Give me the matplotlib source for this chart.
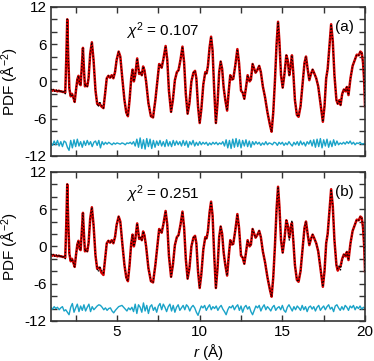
import numpy as np
import matplotlib
matplotlib.use('Agg')
import matplotlib.pyplot as plt
from matplotlib.ticker import MultipleLocator

plt.rcParams['font.family'] = ['Liberation Sans', 'DejaVu Sans']
plt.rcParams['mathtext.fontset'] = 'custom'
plt.rcParams['mathtext.rm'] = 'Liberation Sans'
plt.rcParams['mathtext.it'] = 'Liberation Sans:italic'
plt.rcParams['axes.unicode_minus'] = False

r_obs = [1.00, 1.08, 1.16, 1.24, 1.32, 1.40, 1.48, 1.56, 1.64, 1.72, 1.80, 1.87,
         1.93, 1.99, 2.05, 2.12, 2.20, 2.28, 2.36, 2.44, 2.52, 2.60, 2.67, 2.74,
         2.80, 2.87, 2.94, 3.00, 3.06, 3.13, 3.20, 3.28, 3.38, 3.48, 3.58, 3.70,
         3.80, 3.87, 3.95, 4.05, 4.18, 4.28, 4.38, 4.48, 4.58, 4.68, 4.78, 4.88,
         4.98, 5.10, 5.20, 5.32, 5.45, 5.56, 5.66, 5.76, 5.86, 5.94, 6.02, 6.10,
         6.22, 6.34, 6.44, 6.50, 6.58, 6.66, 6.76, 6.90, 7.05, 7.18, 7.32, 7.45,
         7.55, 7.62, 7.70, 7.80, 7.94, 8.04, 8.14, 8.27, 8.38, 8.50, 8.62, 8.72,
         8.84, 8.96, 9.06, 9.16, 9.27, 9.38, 9.50, 9.62, 9.72, 9.80, 9.90, 10.00,
         10.10, 10.22, 10.34, 10.42, 10.50, 10.60, 10.69, 10.78, 10.88, 10.98, 11.08, 11.18,
         11.27, 11.36, 11.45, 11.55, 11.66, 11.76, 11.85, 11.95, 12.03, 12.15, 12.28, 12.38,
         12.50, 12.60, 12.70, 12.80, 12.90, 13.02, 13.10, 13.20, 13.30, 13.38, 13.48, 13.60,
         13.70, 13.82, 13.95, 14.10, 14.25, 14.35, 14.45, 14.55, 14.65, 14.74, 14.82, 14.92,
         15.02, 15.12, 15.24, 15.32, 15.42, 15.50, 15.58, 15.66, 15.76, 15.88, 15.98, 16.10,
         16.22, 16.34, 16.43, 16.53, 16.63, 16.73, 16.83, 16.93, 17.05, 17.17, 17.30, 17.45,
         17.55, 17.65, 17.74, 17.84, 17.95, 18.05, 18.15, 18.27, 18.35, 18.45, 18.52, 18.62,
         18.72, 18.82, 18.90, 19.00, 19.12, 19.25, 19.40, 19.50, 19.62, 19.72, 19.80, 19.88,
         19.95, 20.00]
g_obs = [-1.2, -1.5, -1.2, -1.6, -1.3, -1.7, -1.3, -1.8, -1.4, -1.9, -1.6, -2.0,
         3.5, 10.0, 4.0, -1.2, -2.4, -2.0, -2.6, -3.3, -1.4, 0.3, 0.9, -0.4,
         -0.6, 2.5, 5.4, 2.0, -0.8, -0.5, -0.8, 0.5, 4.5, 6.3, 3.5, -1.5,
         -3.6, -4.1, -3.2, -3.8, -4.3, -2.0, 0.5, 0.9, 0.6, 1.0, 0.5, 1.5,
         3.5, 4.8, 4.0, 0.5, -3.0, -5.0, -5.6, -3.0, 0.5, 1.9, 0.0, 1.0,
         3.7, 1.2, 1.4, 1.0, 2.4, 1.8, 0.0, -3.5, -5.6, -5.8, -3.0, 0.3,
         2.8, 2.6, 2.2, 3.5, 5.7, 3.5, -1.5, -4.9, -3.0, 0.2, 1.5, 1.8,
         3.5, 5.6, 3.0, -2.0, -5.2, -3.5, 0.0, 1.4, 1.7, 0.5, -4.0, -6.7,
         -4.5, -0.5, 1.5, 1.3, 2.5, 5.5, 7.2, 5.0, -1.5, -6.7, -3.5, 1.5,
         3.2, 2.0, -1.0, -3.0, -4.7, -1.5, 1.0, 0.3, 0.4, 2.5, 5.2, 3.0,
         -1.5, -1.8, -2.8, -1.0, 1.0, 0.0, 0.3, 2.8, 2.0, 1.4, 1.8, 2.5,
         1.5, -0.8, -2.5, -5.0, -7.0, -8.1, -5.0, 0.0, 6.0, 9.6, 6.5, 1.0,
         -1.0, 1.0, 4.2, 3.5, 1.0, 2.5, 4.2, 1.5, -3.0, -5.4, -5.7, -4.0,
         -0.5, 3.0, 4.0, 2.0, 0.2, 1.2, 1.9, 1.3, 0.5, -0.8, -3.5, -6.5,
         -4.0, 0.5, 2.0, 5.5, 9.2, 6.5, 1.0, -3.0, -3.6, -3.0, -3.8, -2.0,
         -1.3, -1.6, -0.9, -2.2, 0.5, 2.5, 3.6, 4.3, 4.2, 4.8, 4.6, 3.0,
         0.0, -4.0]

# fitted curves: same as data except where the fit departs from it
g_calc_a = list(g_obs)
g_calc_a[:12] = [-1.4, -1.5, -1.4, -1.5, -1.5, -1.6, -1.5, -1.6, -1.6, -1.7, -1.7, -1.8]
g_calc_a[37:41] = [-3.8, -3.6, -4.0, -4.3]
g_calc_b = list(g_calc_a)
g_calc_b[37:41] = [-3.5, -3.4, -4.2, -4.6]
g_calc_b[148:152] = [1.4, 3.0, 3.8, 1.0]
g_calc_b[176:179] = [-3.9, -3.4, -3.2]

# residuals (data - fit) on a 0.1 A grid, drawn shifted down
r_diff = np.round(np.arange(1.0, 20.05, 0.1), 1)
diff_a = [0.1, -0.3, 0.4, -0.2, 0.5, -0.4, 0.3, -0.5, 0.4, 0.2,
          -0.6, -1.1, 0.5, -0.7, 0.6, -0.5, 0.7, -0.4, 0.3, -0.6,
          0.4, -0.3, 0.5, -0.2, 0.3, -0.5, 0.2, 0.4, -0.3, 0.5,
          -0.7, 0.3, -0.2, 0.2, -0.1, 0.2, 0.0, -0.2, 0.1, -0.1,
          0.1, 0.0, -0.1, 0.1, 0.0, -0.2, 0.1, 0.0, 0.2, -0.1,
          0.3, -0.4, 0.7, -0.6, 0.9, -0.8, 0.6, -0.9, 0.8, -0.5,
          0.7, -0.8, 0.5, -0.6, 0.4, -0.3, 0.5, -0.4, 0.3, -0.5,
          0.6, -0.4, 0.3, -0.5, 0.5, -0.3, 0.4, -0.2, 0.3, -0.4,
          0.5, -0.3, 0.4, -0.6, 0.3, -0.2, 0.5, -0.4, 0.2, -0.3,
          0.3, -0.2, 0.2, -0.1, 0.2, -0.3, 0.1, -0.2, 0.2, -0.1,
          0.2, -0.2, 0.1, -0.1, 0.3, -0.4, 0.6, -0.7, 0.5, -0.8,
          0.7, -0.6, 0.8, -0.5, 0.6, -0.7, 0.5, -0.4, 0.6, -0.5,
          0.4, -0.6, 0.3, -0.2, 0.3, -0.1, 0.2, -0.3, 0.1, -0.2,
          0.3, -0.2, 0.1, 0.0, -0.2, 0.2, 0.1, -0.3, 0.2, -0.1,
          0.2, -0.3, 0.1, -0.2, 0.3, -0.1, -0.4, 0.2, -0.2, 0.3,
          -0.3, 0.4, -0.2, 0.2, -0.4, 0.3, -0.1, 0.5, -0.4, 0.6,
          -0.6, 0.7, -0.5, 0.8, -0.7, 0.6, -0.4, 0.7, -0.6, 0.4,
          -0.5, 0.6, -0.3, 0.4, -0.2, 0.1, -0.1, 0.2, -0.1, 0.3,
          0.0, 0.4, -0.1, 0.2, -0.2, 0.1, 0.0, 0.2, -0.1, 0.0,
          -0.1]
diff_b = [0.2, -0.1, 0.3, 0.0, 0.2, -0.2, 0.1, 0.3, -0.4, -0.2,
          -0.6, -1.0, 0.2, 0.8, -0.6, 0.1, 0.7, -0.5, 0.4, -0.3,
          0.6, -0.4, 0.2, 0.7, -0.5, 0.3, -0.2, 0.1, 0.4, 0.6,
          0.5, 0.2, -0.2, 0.1, -0.3, 0.0, 0.1, -0.4, -0.7, -0.3,
          0.0, 0.3, 0.4, 0.5, 0.2, -0.1, -0.4, 0.1, -0.2, 0.2,
          -0.5, 0.7, -0.8, 0.6, 0.2, -0.6, 0.9, -0.4, 0.5, -0.8,
          0.3, 0.6, -0.3, 0.2, -0.6, 0.4, 0.8, -0.2, 0.7, 0.2,
          -0.5, 0.3, 0.7, -0.4, 0.5, -0.6, 0.2, 0.6, -0.3, 0.1,
          0.5, -0.2, 0.6, 0.3, -0.4, 0.2, 0.5, 0.1, -0.6, -1.1,
          -0.3, 0.4, 0.1, 0.5, -0.3, 0.2, 0.6, -0.2, 0.3, 0.0,
          0.4, -0.3, 0.2, 0.5, -0.1, -0.5, -1.0, -0.2, 0.3, 0.1,
          0.5, -0.2, 0.3, 0.6, -0.3, 0.4, -0.6, 0.2, 0.5, -0.1,
          0.3, -0.5, -1.0, -0.3, 0.4, 0.1, 0.5, -0.4, 0.2, 0.6,
          -0.2, 0.3, 0.0, -0.4, 0.2, 0.5, -0.3, 0.1, 0.3, -0.2,
          0.5, -0.3, -0.6, 0.2, 0.6, 0.1, -0.4, 0.3, -0.2, 0.4,
          0.1, -0.3, 0.5, -0.2, 0.3, -0.5, 0.2, 0.4, -0.1, 0.3,
          -0.4, 0.2, 0.5, -0.3, 0.1, 0.4, -0.2, 0.3, 0.6, -0.1,
          0.2, -0.5, 0.4, 0.6, 0.1, -0.3, 0.3, -0.2, 0.5, 0.2,
          -0.3, 0.4, 0.1, 0.5, -0.2, 0.3, 0.0, 0.4, -0.1, 0.2,
          0.0]

chi2_values = ['0.107', '0.251']
panel_tags = ['(a)', '(b)']
diff_offset = -10

fig = plt.figure(figsize=(3.74, 3.61), dpi=100)
ax_a = fig.add_axes([0.136, 0.568, 0.840, 0.413])
ax_b = fig.add_axes([0.136, 0.111, 0.840, 0.413])

for ax, g_calc, diff, chi2, tag, ty in zip([ax_a, ax_b], [g_calc_a, g_calc_b],
                                           [diff_a, diff_b], chi2_values, panel_tags,
                                           [0.84, 0.852]):
    ax.plot(r_obs, g_calc, color='#d40000', lw=1.8, zorder=2)
    ax.plot(r_obs, g_obs, color='black', lw=0.9, ls=(0, (1, 1.6)), zorder=3)
    ax.plot(r_diff, np.array(diff) + diff_offset, color='#1aa3c8', lw=1.0, zorder=2)

    ax.set_xlim(1, 20)
    ax.set_ylim(-12, 12)
    ax.xaxis.set_major_locator(MultipleLocator(5))
    ax.xaxis.set_minor_locator(MultipleLocator(2.5))
    ax.yaxis.set_major_locator(MultipleLocator(6))
    ax.yaxis.set_minor_locator(MultipleLocator(2))
    ax.tick_params(which='both', direction='in', top=True, right=True,
                   length=4, width=1, labelsize=11, color='#333333', pad=3)
    for s in ax.spines.values():
        s.set_linewidth(1.2)
        s.set_color('#333333')
    ax.set_ylabel(r'PDF (Å$^{-2}$)', fontsize=11)
    ax.yaxis.set_label_coords(-0.095, 0.5)

    ax.text(0.357, ty, r'$\chi^2$ = ' + chi2, transform=ax.transAxes,
            ha='center', va='center', fontsize=11)
    ax.text(0.935, 0.862, tag, transform=ax.transAxes,
            ha='center', va='center', fontsize=11)

ax_a.tick_params(labelbottom=False)
ax_b.set_xlabel(r'$r$ (Å)', fontsize=11, va='top')
ax_b.xaxis.set_label_coords(0.5, -0.14)

fig.savefig('out.png', dpi=100)
